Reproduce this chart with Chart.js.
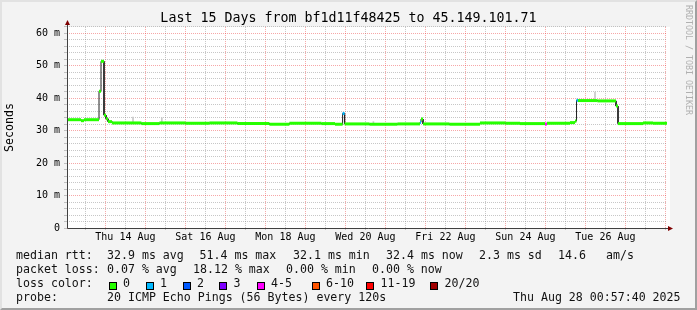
<!DOCTYPE html>
<html>
<head>
<meta charset="utf-8">
<script src="https://cdn.jsdelivr.net/npm/chart.js@4.4.1/dist/chart.umd.min.js"></script>
<style>
  html, body { margin: 0; padding: 0; }
  body { width: 697px; height: 310px; position: relative; overflow: hidden; background: #f3f3f3; font-family: 'DejaVu Sans Mono', monospace; }
  #c { position: absolute; left: 0; top: 0; }
  #frame { position: absolute; left: 0; top: 0; width: 697px; height: 310px; box-sizing: border-box;
           border-top: 2px solid #e2e2e2; border-left: 2px solid #e2e2e2; border-right: 2px solid #a0a0a0; border-bottom: 2px solid #a0a0a0; pointer-events: none; }
  .leg { position: absolute; font-size: 11.6px; line-height: 14px; color: #111; white-space: pre; }
  .box { position: absolute; box-sizing: border-box; width: 8px; height: 8px; border: 1px solid #000; }
  #wm { position: absolute; left: 683px; top: 5px; width: 12px; line-height: 12px; writing-mode: vertical-rl; font-size: 8.3px; color: #b0b0b0; white-space: pre; }
</style>
</head>
<body>
<canvas id="c" width="697" height="310"></canvas>
<div id="legend"></div>
<div id="wm">RRDTOOL / TOBI OETIKER</div>
<div id="frame"></div>
<script>
// smokeping style median rtt, 15 days, x in days since Aug 13 00:00

// step boundaries (days) and the median rtt (ms) for each step
const stepDays = [0.04, 0.39, 0.465, 0.84, 0.89, 0.965, 1.015, 1.065, 1.165, 1.9,
  2.35, 3.0, 3.6, 4.3, 5.1, 5.6, 6.4, 6.74, 6.93, 6.98,
  7.6, 8.3, 8.865, 8.89, 8.94, 9.6, 10.365, 11.0, 11.365, 11.99,
  12.04, 12.615, 12.74, 12.778, 12.815, 13.3, 13.765, 13.815, 14.44, 14.69, 15.04];
const stepMedian = [33.4, 33.1, 33.4, 42.2, 51.4, 34.8, 33.7, 32.8, 32.4, 32.2,
  32.4, 32.3, 32.4, 32.2, 32.0, 32.3, 32.2, 32.0, 35.3, 32.1,
  32.0, 32.1, 32.6, 33.6, 32.1, 32.0, 32.4, 32.3, 32.2, 32.1,
  32.3, 32.5, 33.0, 39.4, 39.3, 39.2, 37.6, 32.2, 32.4, 32.3];
// loss bucket per step (index into lossLabels)
const stepLoss = [0, 0, 0, 0, 0, 0, 0, 0, 0, 0,
  0, 0, 0, 0, 0, 0, 0, 0, 1, 0,
  0, 0, 1, 0, 0, 0, 0, 0, 0, 4,
  0, 0, 0, 1, 0, 0, 0, 0, 0, 0];

// smoke (rtt spread) spikes
const smokeDays = [1.69, 2.41, 7.7, 13.24];
const smokeLow = [32.4, 32.4, 32.0, 39.3];
const smokeHigh = [34.2, 34.0, 32.8, 41.9];

const lossLabels = ['0', '1', '2', '3', '4-5', '6-10', '11-19', '20/20'];
const lossColors = ['#26ff00', '#00b8ff', '#0059ff', '#7e00ff', '#ff00ff', '#ff5500', '#ff0000', '#a10000'];

const xLabelDays = [1.5, 3.5, 5.5, 7.5, 9.5, 11.5, 13.5];
const xLabels = ['Thu 14 Aug', 'Sat 16 Aug', 'Mon 18 Aug', 'Wed 20 Aug', 'Fri 22 Aug', 'Sun 24 Aug', 'Tue 26 Aug'];

const yMax = 62;
const titleText = 'Last 15 Days from bf1d11f48425 to 45.149.101.71';

// legend rows: [x, text]
const legendRows = [
  [[16, 'median rtt:'], [107, '32.9 ms avg'], [199.5, '51.4 ms max'], [293, '32.1 ms min'], [386, '32.4 ms now'], [479, '2.3 ms sd'], [558, '14.6'], [606, 'am/s']],
  [[16, 'packet loss:'], [107, '0.07 % avg'], [193, '18.12 % max'], [286, '0.00 % min'], [372, '0.00 % now']],
  [[16, 'loss color:']],
  [[16, 'probe:'], [107, '20 ICMP Echo Pings (56 Bytes) every 120s'], [513, 'Thu Aug 28 00:57:40 2025']]
];
const legendTops = [247.5, 261.5, 275.5, 289.5];
const boxX = [108.5, 145.5, 182.5, 219, 256.5, 311.5, 366, 430];

const FONT = 'DejaVu Sans Mono';
const GRID_MINOR = 'rgba(130,130,130,0.45)';
const GRID_MAJOR = 'rgba(235,60,60,0.45)';

// build point lists
const bandPts = [];
const linePts = [];
for (let i = 0; i < stepMedian.length; i++) {
  bandPts.push({ x: stepDays[i], y: stepMedian[i] }, { x: stepDays[i + 1], y: stepMedian[i] }, { x: stepDays[i + 1], y: null });
  linePts.push({ x: stepDays[i], y: stepMedian[i] }, { x: stepDays[i + 1], y: stepMedian[i] });
}

const gridDays = [];
for (let d = 0.5; d <= 15; d += 0.5) gridDays.push(d);
const gridMs = [];
for (let v = 0; v <= yMax; v += 2) gridMs.push(v);

const xGridColor = c => (c.tick && Number.isInteger(c.tick.value)) ? GRID_MAJOR : GRID_MINOR;
const yGridColor = c => (c.tick && c.tick.value % 10 === 0) ? GRID_MAJOR : GRID_MINOR;

const rrdFrame = {
  id: 'rrdFrame',
  beforeDraw(chart) {
    const a = chart.chartArea, ctx = chart.ctx;
    ctx.save();
    ctx.fillStyle = '#ffffff';
    ctx.fillRect(a.left, a.top, a.right - a.left + 3, a.bottom - a.top);
    ctx.restore();
  },
  afterDraw(chart) {
    const a = chart.chartArea, ctx = chart.ctx;
    const x0 = Math.round(a.left) + 0.5, y0 = Math.round(a.bottom) + 0.5;
    ctx.save();
    ctx.strokeStyle = '#404040';
    ctx.lineWidth = 1;
    ctx.beginPath();
    ctx.moveTo(x0, y0); ctx.lineTo(x0, a.top - 3);
    ctx.moveTo(x0, y0); ctx.lineTo(a.right + 2, y0);
    ctx.stroke();
    ctx.fillStyle = '#7f0000';
    ctx.beginPath();
    ctx.moveTo(x0 - 2.5, a.top - 2); ctx.lineTo(x0 + 2.5, a.top - 2); ctx.lineTo(x0, a.top - 7); ctx.closePath();
    ctx.fill();
    ctx.beginPath();
    ctx.moveTo(a.right + 1, y0 - 2.5); ctx.lineTo(a.right + 1, y0 + 2.5); ctx.lineTo(a.right + 6, y0); ctx.closePath();
    ctx.fill();
    ctx.restore();
  }
};

new Chart(document.getElementById('c').getContext('2d'), {
  data: {
    datasets: [
      {
        type: 'line',
        data: bandPts,
        borderWidth: 3,
        borderCapStyle: 'butt',
        borderColor: lossColors[0],
        segment: { borderColor: c => lossColors[stepLoss[Math.floor(c.p0DataIndex / 3)]] },
        pointRadius: 0,
        spanGaps: false,
        order: 1
      },
      {
        type: 'line',
        data: linePts,
        borderWidth: 1,
        borderColor: '#202020',
        pointRadius: 0,
        order: 2
      },
      {
        type: 'bar',
        data: smokeDays.map((d, i) => ({ x: d, y: [smokeLow[i], smokeHigh[i]] })),
        backgroundColor: '#c8c8c8',
        barThickness: 1,
        grouped: false,
        order: 3
      }
    ]
  },
  options: {
    responsive: false,
    animation: false,
    events: [],
    layout: { padding: { left: 0, right: 0, top: 0, bottom: 62 } },
    plugins: {
      legend: { display: false },
      tooltip: { enabled: false },
      title: {
        display: true,
        text: titleText,
        color: '#000',
        font: { family: FONT, size: 13.3, weight: 'normal' },
        padding: { top: 11, bottom: 0 }
      }
    },
    scales: {
      x: {
        type: 'linear',
        min: 0.04,
        max: 15.04,
        offset: false,
        afterBuildTicks: s => { s.ticks = gridDays.map(v => ({ value: v })); },
        afterFit: s => { s.height = 20; },
        grid: {
          offset: false,
          color: xGridColor,
          tickColor: GRID_MINOR,
          tickLength: 2
        },
        border: { display: false, dash: [1, 1] },
        ticks: {
          autoSkip: false,
          maxRotation: 0,
          padding: 1,
          color: '#000',
          font: { family: FONT, size: 10 },
          callback: v => {
            const i = xLabelDays.indexOf(v);
            return i >= 0 ? xLabels[i] : '';
          }
        }
      },
      y: {
        type: 'linear',
        min: 0,
        max: yMax,
        afterBuildTicks: s => { s.ticks = gridMs.map(v => ({ value: v })); },
        afterFit: s => { s.width = 67; },
        grid: {
          color: yGridColor,
          tickColor: GRID_MINOR,
          tickLength: 3
        },
        border: { display: false, dash: [1, 1] },
        title: {
          display: true,
          text: 'Seconds',
          color: '#000',
          font: { family: FONT, size: 11.6 },
          padding: { top: 3, bottom: 0 }
        },
        ticks: {
          autoSkip: false,
          padding: 4,
          color: '#000',
          font: { family: FONT, size: 10 },
          callback: v => v % 10 === 0 ? (v === 0 ? '0' : v + ' m') : ''
        }
      },
      yR: {
        type: 'linear',
        position: 'right',
        afterFit: s => { s.width = 30; },
        grid: { display: false },
        border: { display: false },
        ticks: { display: false }
      }
    }
  },
  plugins: [rrdFrame]
});

// legend text below the plot
const legend = document.getElementById('legend');
legendRows.forEach((row, r) => {
  row.forEach(([x, text]) => {
    const el = document.createElement('div');
    el.className = 'leg';
    el.style.left = x + 'px';
    el.style.top = legendTops[r] + 'px';
    el.textContent = text;
    legend.appendChild(el);
  });
});
lossLabels.forEach((lbl, i) => {
  const b = document.createElement('div');
  b.className = 'box';
  b.style.left = boxX[i] + 'px';
  b.style.top = '282px';
  b.style.background = lossColors[i];
  legend.appendChild(b);
  const t = document.createElement('div');
  t.className = 'leg';
  t.style.left = (boxX[i] + 14.5) + 'px';
  t.style.top = legendTops[2] + 'px';
  t.textContent = lbl;
  legend.appendChild(t);
});
</script>
</body>
</html>
